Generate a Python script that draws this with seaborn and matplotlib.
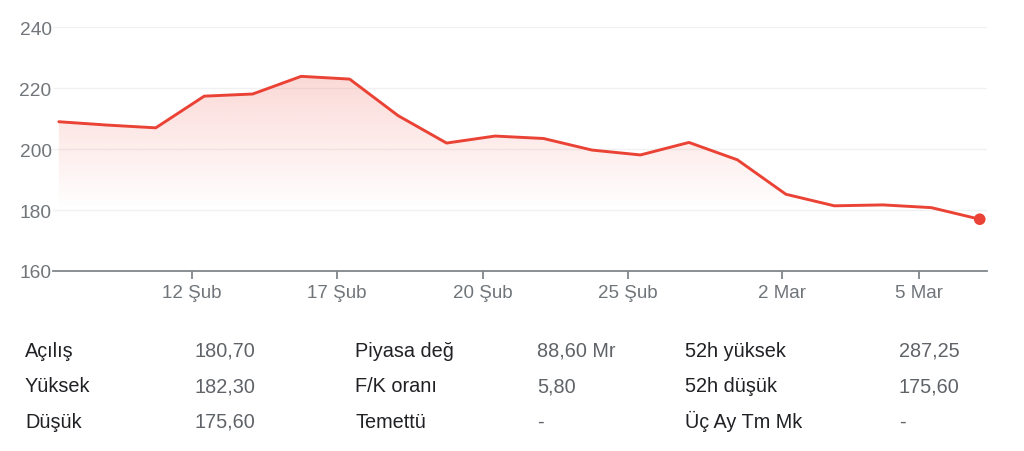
import numpy as np
import pandas as pd
import matplotlib
matplotlib.use("Agg")
import matplotlib.pyplot as plt
from matplotlib.colors import to_rgb
import seaborn as sns

# daily closes, 9 Şub .. 6 Mar
dates = ["9 Şub", "10 Şub", "11 Şub", "12 Şub", "13 Şub", "16 Şub", "17 Şub",
         "18 Şub", "19 Şub", "20 Şub", "23 Şub", "24 Şub", "25 Şub", "26 Şub",
         "27 Şub", "2 Mar", "3 Mar", "4 Mar", "5 Mar", "6 Mar"]
prices = [209.0, 207.9, 207.0, 217.4, 218.1, 223.9, 223.0, 211.0, 202.0, 204.3,
          203.5, 199.7, 198.1, 202.2, 196.5, 185.2, 181.4, 181.7, 180.8, 177.0]

tick_labels = ["12 Şub", "17 Şub", "20 Şub", "25 Şub", "2 Mar", "5 Mar"]
y_ticks = [160, 180, 200, 220, 240]

stat_labels = [["Açılış", "Yüksek", "Düşük"],
               ["Piyasa değ", "F/K oranı", "Temettü"],
               ["52h yüksek", "52h düşük", "Üç Ay Tm Mk"]]
stat_values = [["180,70", "182,30", "175,60"],
               ["88,60 Mr", "5,80", "-"],
               ["287,25", "175,60", "-"]]

df = pd.DataFrame({"i": np.arange(len(prices)), "price": prices, "date": dates})

RED = "#ea4335"
GRAY = "#70757a"

sns.set_theme(style="white")
plt.rcParams["font.family"] = ["Liberation Sans", "DejaVu Sans"]

fig = plt.figure(figsize=(10.24, 4.52), dpi=100)
ax = fig.add_axes([53 / 1024, 1 - 272 / 452, (987 - 53) / 1024, (272 - 28.3) / 452])

x0, x1 = -0.12, 19.15
ax.set_xlim(x0, x1)
ax.set_ylim(160, 240)

# gradient fill under the line
poly = ax.fill_between(df["i"], df["price"], 160, color="none", lw=0)
top = max(prices)
grad_y = np.linspace(160, top, 200)
alpha = np.clip((grad_y - 180) / (top - 180), 0, 1) * 0.2
img = np.zeros((len(grad_y), 1, 4))
img[..., :3] = to_rgb(RED)
img[:, 0, 3] = alpha
im = ax.imshow(img, extent=[x0, x1, 160, top], origin="lower", aspect="auto",
               zorder=1, interpolation="bilinear")
im.set_clip_path(poly.get_paths()[0], transform=ax.transData)

sns.lineplot(data=df, x="i", y="price", ax=ax, color=RED, lw=2.1, zorder=3)
sns.scatterplot(data=df.tail(1), x="i", y="price", ax=ax, color=RED, s=70,
                edgecolor="none", zorder=4)

for v in y_ticks[1:]:
    ax.axhline(v, color="#f1f1f1", lw=1.0, zorder=0)

for s in ["top", "right", "left"]:
    ax.spines[s].set_visible(False)
ax.spines["bottom"].set_color("#80868b")
ax.spines["bottom"].set_linewidth(1.3)

# tick positions sit a bit before each trading day's close point
tick_pos = [2.74, 5.74, 8.75, 11.74, 14.92, 17.74]
ax.set_xticks(tick_pos)
ax.set_xticklabels(tick_labels)
ax.set_yticks(y_ticks)
ax.tick_params(axis="x", length=6, width=1.3, color="#80868b", pad=3,
               labelsize=13.5, labelcolor=GRAY, bottom=True)
ax.tick_params(axis="y", length=0, pad=1, labelsize=13.8, labelcolor=GRAY)
ax.set_xlabel("")
ax.set_ylabel("")

# key stats table under the chart
label_x = [25, 355, 685]
value_x = [195, 537, 899]
row_base = [357, 392.5, 428]
for c in range(3):
    for r in range(3):
        fig.text(label_x[c] / 1024, 1 - row_base[r] / 452, stat_labels[c][r],
                 fontsize=14.3, color="#202124", va="baseline", ha="left")
        fig.text(value_x[c] / 1024, 1 - row_base[r] / 452, stat_values[c][r],
                 fontsize=14.3, color="#5f6368", va="baseline", ha="left")

fig.savefig("out.png", dpi=100, facecolor="white")
